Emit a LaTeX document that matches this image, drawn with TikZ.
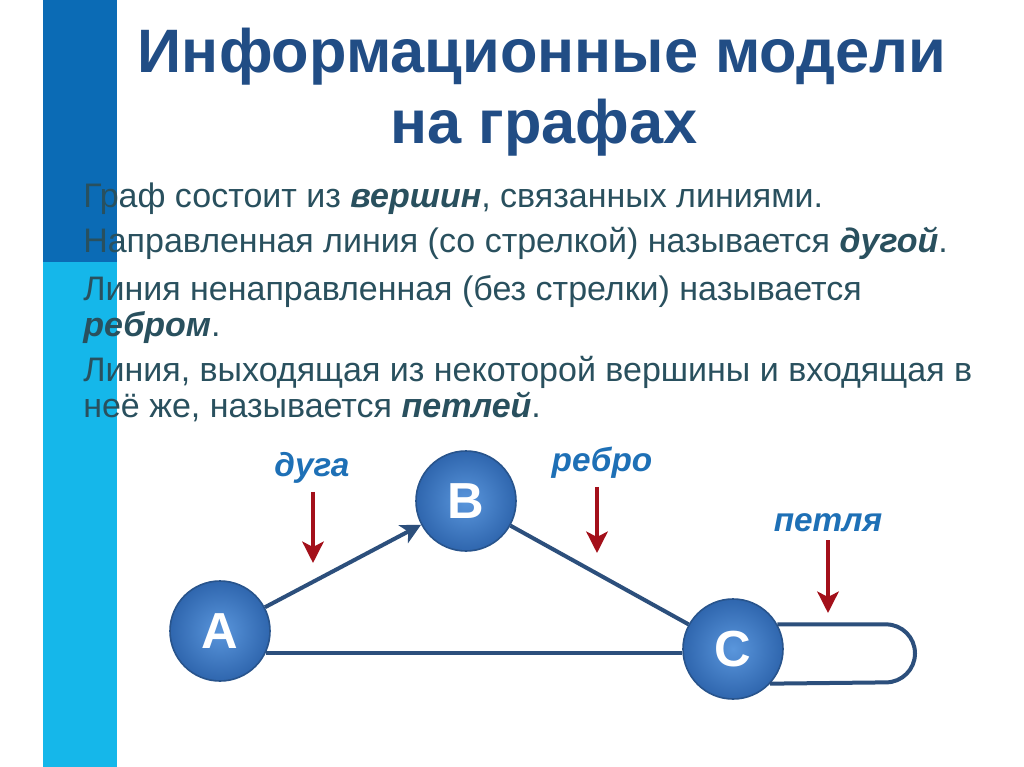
\documentclass[tikz,border=0pt]{standalone}
\usepackage{fontspec}
\setmainfont{Liberation Sans}
\usetikzlibrary{arrows.meta,positioning,calc}
\definecolor{stripe-dark}{HTML}{0B6BB5}
\definecolor{stripe-light}{HTML}{15B7EA}
\definecolor{title-blue}{HTML}{214D85}
\definecolor{body-txt}{HTML}{29505E}
\definecolor{edge-blue}{HTML}{2C4F7C}
\definecolor{vert-light}{HTML}{5A96DC}
\definecolor{vert-dark}{HTML}{2F66AE}
\definecolor{vert-rim}{HTML}{28548C}
\definecolor{lbl-blue}{HTML}{1E70B6}
\definecolor{ptr-red}{HTML}{A3101A}
\newcommand{\kw}[1]{\textbf{\textit{#1}}}

\begin{document}
\begin{tikzpicture}[x=0.75pt, y=-0.75pt,
	   ttl/.style={anchor=base, inner sep=0pt, text=title-blue, font=\fontsize{46}{54}\selectfont\bfseries},
	   ln/.style={anchor=base west, inner sep=0pt, text=body-txt, font=\fontsize{25.5}{30}\selectfont},
	   v/.style={circle, minimum size=75pt, inner sep=0pt, draw=vert-rim, line width=1.2pt,
	     inner color=vert-light, outer color=vert-dark, text=white, font=\fontsize{38}{40}\selectfont\bfseries},
	   e/.style={draw=edge-blue, line width=3pt},
	   lbl/.style={inner sep=1pt, text=lbl-blue, font=\fontsize{25}{28}\selectfont\bfseries\itshape},
	   ptr/.style={draw=ptr-red, line width=3pt, shorten <=5pt, -{Stealth[length=16pt, width=16pt, inset=4pt]}}]
	  \useasboundingbox (0,0) rectangle (1024,767);
	  \fill[white] (0,0) rectangle (1024,767);
	  \fill[stripe-dark] (43,0) rectangle (117,262);
	  \fill[stripe-light] (43,262) rectangle (117,767);
	  \node[ttl] (t1) at (542,73) {Информационные модели};
	  \node[ttl] (t2) at (544,143) {на графах};
	  \node[ln] (l1) at (83,207) {Граф состоит из \kw{вершин}, связанных линиями.};
	  \node[ln] (l2) at (83,252) {Направленная линия (со стрелкой) называется \kw{дугой}.};
	  \node[ln] (l3) at (83,300) {Линия ненаправленная (без стрелки) называется};
	  \node[ln] (l4) at (83,336) {\kw{ребром}.};
	  \node[ln] (l5) at (83,381) {Линия, выходящая из некоторой вершины и входящая в};
	  \node[ln] (l6) at (83,417) {неё же, называется \kw{петлей}.};
	  \node[v] (A) at (220,631) {A};
	  \node[v] (B) at (466,501) {B};
	  \node[v] (C) at (733,649) {C};
	  \coordinate (loopR) at (886,654);
	  \draw[e, -{Stealth[length=15pt, width=15pt, inset=4pt]}] (A) -- (B);
	  \draw[e] (B) -- (C);
	  \draw[e] (A.-26) -- (A.-26 -| C.west);
	  \draw[e] (C.29) -- (C.29 -| loopR) arc[start angle=90, end angle=-90, radius=21.75pt] -- (C.-43);
	  \node[lbl] (duga) at (312,468) {дуга};
	  \node[lbl] (rebro) at (602,463) {ребро};
	  \node[lbl] (petlya) at (828,523) {петля};
	  \coordinate (dugaT) at (313,563);
	  \coordinate (rebroT) at (597,553);
	  \coordinate (petlyaT) at (828,613);
	  \draw[ptr] (duga.south -| dugaT) -- (dugaT);
	  \draw[ptr] (rebro.south -| rebroT) -- (rebroT);
	  \draw[ptr] (petlya.south -| petlyaT) -- (petlyaT);
	\end{tikzpicture}
\end{document}
